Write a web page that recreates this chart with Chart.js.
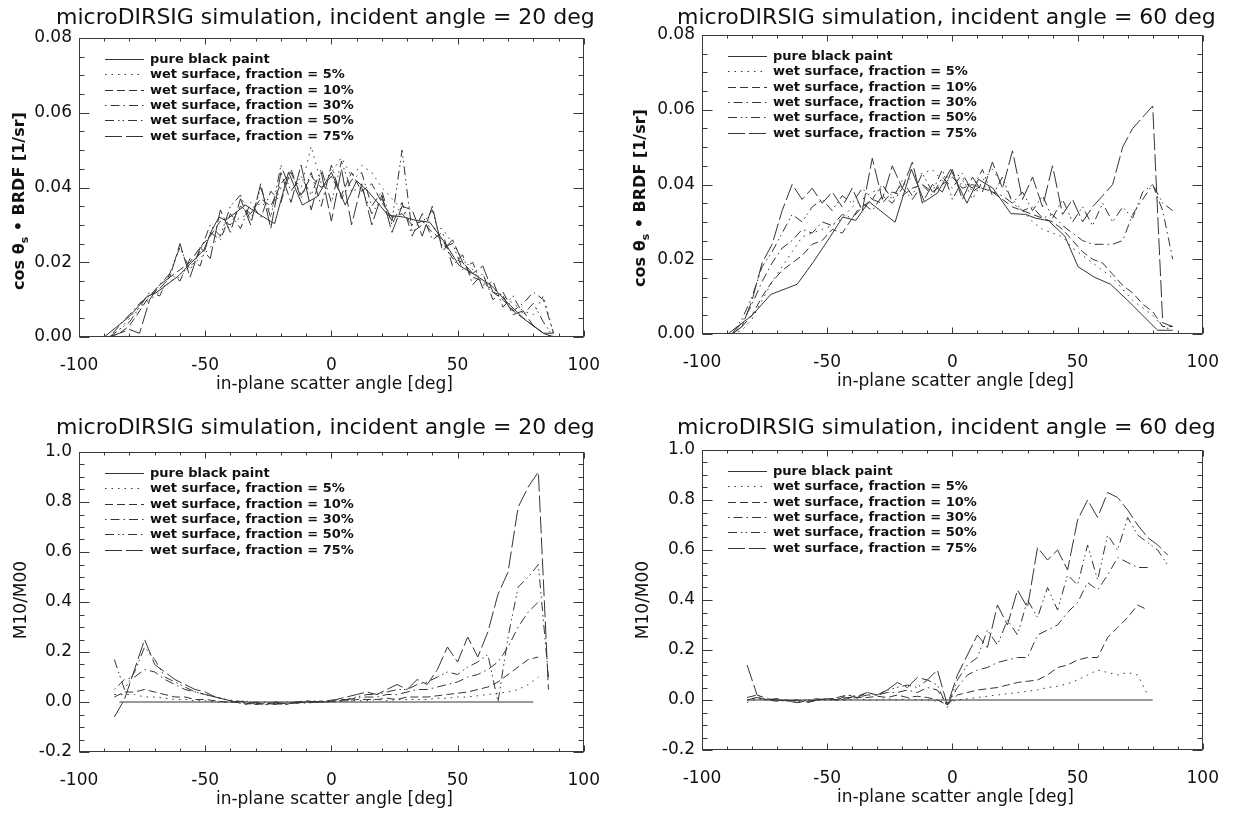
<!DOCTYPE html>
<html>
<head>
<meta charset="utf-8">
<script src="https://cdn.jsdelivr.net/npm/chart.js@4.4.1/dist/chart.umd.min.js"></script>
<style>
  body { margin: 0; background: #fff; }
  #wrap { position: relative; width: 1237px; height: 820px; }
  canvas { position: absolute; }
</style>
</head>
<body>
<div id="wrap">
  <canvas id="c1" width="618" height="410" style="left:0;top:0"></canvas>
  <canvas id="c2" width="619" height="410" style="left:618px;top:0"></canvas>
  <canvas id="c3" width="618" height="410" style="left:0;top:410px"></canvas>
  <canvas id="c4" width="619" height="410" style="left:618px;top:410px"></canvas>
</div>
<script>
const seriesNames = ['pure black paint', 'wet surface, fraction = 5%', 'wet surface, fraction = 10%',
  'wet surface, fraction = 30%', 'wet surface, fraction = 50%', 'wet surface, fraction = 75%'];

const xTicks = [-100, -50, 0, 50, 100];
const yTicksBrdf = [0, 0.02, 0.04, 0.06, 0.08];
const yTicksRatio = [-0.2, 0, 0.2, 0.4, 0.6, 0.8, 1.0];

// scatter angles of the wet surface runs
const angleTop = [-88,-84,-80,-76,-72, -68,-64,-60,-56,-52, -48,-44,-40,-36,-32, -28,-24,-20,-16,-12,
  -8,-4,0,4,8, 12,16,20,24,28, 32,36,40,44,48, 52,56,60,64,68, 72,76,80,84,88];
const angleBL = [-86,-82,-78,-74,-70, -66,-62,-58,-54,-50, -46,-42,-38,-34,-30, -26,-22,-18,-14,-10,
  -6,-2,2,6,10, 14,18,22,26,30, 34,38,42,46,50, 54,58,62,66,70, 74,78,82,86];
const angleBR = [-82,-78,-74,-70,-66, -62,-58,-54,-50,-46, -42,-38,-34,-30,-26, -22,-18,-14,-10,-6,
  -2,2,6,10,14, 18,22,26,30,34, 38,42,46,50,54, 58,62,66,70,74, 78,82,86];

// pure black paint, cos(theta_s) * BRDF
const pureTLx = [-90,-80,-73,-69.5,-60.5, -56.5,-50.5,-47.5,-44.5,-42, -34,-29,-22.5,-17,-11.5,
  -5.5,0,5.5,10,14.5, 22.5,28.5,33.5,39,45, 50.5,56,63.5,70,77, 84,88];
const pureTLy = [0,0.0055,0.0109,0.0118,0.0164, 0.0192,0.0233,0.0284,0.0321,0.0312, 0.0353,0.033,0.0303,0.0441,0.0353,
  0.0376,0.0441,0.0353,0.0418,0.039, 0.0326,0.0321,0.0312,0.0307,0.0252, 0.0192,0.017,0.0137,0.009,0.0045, 0.001,0.001];
const pureTRx = [-89.7,-80,-72.5,-62,-55.5, -49,-43.8,-38.6,-33.3,-22.9, -16.4,-11.2,-6,-0.7,5.8,
  10.4,16.2,23.4,29.3,33.2, 38.4,44.9,50.2,56.7,63.2, 70,76,82,88];
const pureTRy = [0,0.005,0.0106,0.0133,0.0193, 0.0258,0.0313,0.0304,0.0354,0.0299, 0.0441,0.0354,0.0377,0.0441,0.035,
  0.0414,0.039,0.0322,0.032,0.031, 0.0303,0.0262,0.018,0.0152,0.0133, 0.009,0.005,0.001,0.001];
const pureBLx = [-84, 80];
const pureBLy = [0, 0];
const pureBRx = [-82, 80];
const pureBRy = [0, 0];

// incident angle 20 deg, cos * BRDF
const tl5 = [0.000,0.002,0.005,0.008,0.010, 0.012,0.015,0.016,0.019,0.021, 0.024,0.027,0.030,0.032,0.033,
  0.036,0.034,0.040,0.043,0.040, 0.051,0.041,0.044,0.048,0.043, 0.046,0.044,0.040,0.037,0.034,
  0.030,0.031,0.029,0.029,0.025, 0.021,0.018,0.014,0.013,0.011, 0.009,0.007,0.006,0.011,0.001];
const tl10 = [0.000,0.001,0.003,0.007,0.011, 0.013,0.016,0.018,0.020,0.024, 0.027,0.031,0.030,0.035,0.033,
  0.037,0.035,0.041,0.044,0.038, 0.043,0.040,0.043,0.038,0.044, 0.039,0.041,0.036,0.032,0.033,
  0.030,0.031,0.028,0.026,0.021, 0.020,0.016,0.015,0.012,0.010, 0.007,0.005,0.003,0.001,0.000];
const tl30 = [0.000,0.003,0.006,0.009,0.011, 0.014,0.017,0.015,0.021,0.019, 0.028,0.026,0.033,0.029,0.036,
  0.032,0.039,0.036,0.045,0.037, 0.044,0.035,0.046,0.037,0.042, 0.044,0.035,0.039,0.030,0.036,
  0.027,0.033,0.026,0.028,0.019, 0.022,0.014,0.017,0.010,0.012, 0.007,0.009,0.012,0.010,0.001];
const tl50 = [0.000,0.002,0.004,0.008,0.012, 0.011,0.017,0.024,0.018,0.023, 0.030,0.027,0.035,0.038,0.031,
  0.040,0.032,0.046,0.039,0.043, 0.038,0.045,0.036,0.047,0.039, 0.040,0.033,0.037,0.031,0.050,
  0.028,0.030,0.034,0.024,0.025, 0.018,0.020,0.013,0.015,0.008, 0.011,0.006,0.009,0.004,0.000];
const tl75 = [0.000,0.001,0.002,0.001,0.010, 0.014,0.016,0.025,0.016,0.024, 0.021,0.034,0.028,0.037,0.030,
  0.041,0.029,0.044,0.036,0.046, 0.034,0.044,0.031,0.045,0.030, 0.041,0.030,0.038,0.028,0.035,
  0.034,0.027,0.035,0.023,0.026, 0.020,0.017,0.019,0.012,0.011, 0.006,0.007,0.003,0.001,0.000];

// incident angle 60 deg, cos * BRDF
const tr5 = [0.000,0.001,0.004,0.009,0.014, 0.018,0.022,0.026,0.027,0.028, 0.029,0.031,0.034,0.036,0.038,
  0.039,0.037,0.040,0.042,0.043, 0.044,0.041,0.043,0.042,0.036, 0.041,0.044,0.040,0.036,0.033,
  0.030,0.028,0.027,0.026,0.023, 0.021,0.019,0.017,0.015,0.012, 0.009,0.007,0.005,0.002,0.001];
const tr10 = [0.000,0.002,0.005,0.010,0.014, 0.017,0.019,0.021,0.024,0.025, 0.028,0.027,0.031,0.034,0.036,
  0.035,0.038,0.037,0.039,0.040, 0.038,0.040,0.042,0.039,0.040, 0.039,0.038,0.036,0.034,0.033,
  0.032,0.031,0.030,0.028,0.025, 0.022,0.020,0.019,0.016,0.013, 0.011,0.008,0.006,0.002,0.002];
const tr30 = [0.000,0.003,0.008,0.014,0.019, 0.023,0.025,0.028,0.027,0.030, 0.029,0.032,0.031,0.035,0.033,
  0.037,0.035,0.039,0.036,0.040, 0.037,0.042,0.039,0.043,0.038, 0.040,0.038,0.037,0.035,0.033,
  0.034,0.031,0.032,0.029,0.027, 0.025,0.024,0.024,0.024,0.025, 0.032,0.036,0.040,0.033,0.020];
const tr50 = [0.000,0.004,0.010,0.018,0.022, 0.027,0.032,0.030,0.034,0.036, 0.033,0.037,0.035,0.039,0.036,
  0.040,0.036,0.041,0.037,0.043, 0.038,0.044,0.036,0.041,0.039, 0.044,0.037,0.042,0.035,0.038,
  0.033,0.037,0.031,0.036,0.030, 0.034,0.029,0.035,0.030,0.034, 0.031,0.038,0.040,0.035,0.033];
const tr75 = [0.000,0.002,0.009,0.019,0.024, 0.033,0.040,0.036,0.039,0.035, 0.038,0.034,0.039,0.033,0.047,
  0.036,0.045,0.039,0.046,0.035, 0.040,0.038,0.044,0.036,0.042, 0.038,0.046,0.039,0.049,0.036,
  0.042,0.034,0.045,0.032,0.036, 0.030,0.034,0.037,0.040,0.050, 0.055,0.058,0.061,0.003,0.002];

// incident angle 20 deg, M10/M00
const bl5 = [0.03,0.03,0.03,0.02,0.02, 0.015,0.01,0.01,0.005,0.005, 0.0,0.0,0.0,-0.005,0.0,
  -0.005,0.0,-0.005,0.0,0.0, 0.0,0.005,0.0,0.005,0.005, 0.005,0.01,0.005,0.01,0.01,
  0.01,0.01,0.015,0.015,0.02, 0.02,0.025,0.03,0.035,0.04, 0.05,0.07,0.10,null];
const bl10 = [0.02,0.04,0.04,0.05,0.04, 0.03,0.02,0.02,0.01,0.01, 0.005,0.0,0.0,-0.005,-0.01,
  -0.005,-0.01,-0.005,-0.005,0.0, 0.0,0.0,0.005,0.005,0.01, 0.01,0.01,0.015,0.01,0.02,
  0.02,0.02,0.025,0.03,0.035, 0.04,0.05,0.06,0.08,0.11, 0.14,0.17,0.18,null];
const bl30 = [0.05,0.09,0.10,0.13,0.12, 0.09,0.07,0.05,0.04,0.03, 0.02,0.01,0.005,0.0,-0.005,
  -0.01,-0.005,-0.01,0.0,-0.005, 0.0,0.0,0.005,0.01,0.015, 0.02,0.02,0.03,0.03,0.04,
  0.05,0.05,0.06,0.07,0.08, 0.10,0.11,0.13,0.16,0.22, 0.30,0.36,0.40,null];
const bl50 = [0.17,0.05,0.12,0.22,0.17, 0.10,0.08,0.06,0.04,0.03, 0.02,0.01,0.0,0.005,-0.01,
  0.0,-0.01,0.0,-0.005,0.0, 0.005,0.0,0.01,0.01,0.02, 0.03,0.03,0.04,0.05,0.05,
  0.07,0.08,0.10,0.12,0.11, 0.14,0.16,0.19,0.0,0.26, 0.46,0.50,0.55,0.10];
const bl75 = [-0.06,0.01,0.13,0.25,0.15, 0.12,0.09,0.07,0.05,0.04, 0.02,0.01,0.0,-0.01,0.0,
  -0.01,0.0,-0.01,0.0,0.005, 0.0,0.005,0.01,0.02,0.03, 0.04,0.03,0.05,0.07,0.05,
  0.09,0.07,0.13,0.22,0.16, 0.26,0.18,0.28,0.43,0.52, 0.78,0.86,0.92,0.05];

// incident angle 60 deg, M10/M00
const br5 = [-0.01,0.005,0.0,0.0,0.0, -0.005,0.0,0.0,0.0,0.0, 0.0,0.005,0.0,0.0,0.005,
  0.0,0.005,0.0,0.0,-0.005, -0.01,0.0,0.005,0.01,0.015, 0.02,0.025,0.03,0.035,0.04,
  0.05,0.055,0.065,0.08,0.10, 0.12,0.11,0.10,0.11,0.10, 0.02,null,null];
const br10 = [0.0,0.01,0.0,-0.005,0.0, -0.01,-0.005,0.0,0.005,0.0, 0.005,0.01,0.01,0.015,0.01,
  0.02,0.01,0.015,0.01,0.0, -0.02,0.02,0.03,0.04,0.045, 0.05,0.06,0.07,0.075,0.08,
  0.10,0.13,0.14,0.16,0.17, 0.17,0.25,0.29,0.33,0.38, 0.36,null,null];
const br30 = [0.0,0.01,0.0,0.005,-0.005, 0.0,-0.01,0.0,0.005,0.005, 0.01,0.01,0.02,0.02,0.03,
  0.03,0.04,0.03,0.05,0.04, -0.02,0.05,0.10,0.12,0.13, 0.15,0.16,0.17,0.17,0.26,
  0.28,0.30,0.35,0.39,0.47, 0.44,0.50,0.57,0.55,0.53, 0.53,null,null];
const br50 = [0.01,0.02,0.0,0.005,-0.005, -0.01,0.0,0.005,0.0,0.01, 0.02,0.015,0.03,0.02,0.04,
  0.05,0.06,0.05,0.08,0.06, -0.03,0.08,0.14,0.17,0.28, 0.22,0.32,0.26,0.40,0.33,
  0.45,0.36,0.50,0.46,0.62, 0.48,0.66,0.60,0.73,0.66, 0.63,0.60,0.54];
const br75 = [0.14,0.02,0.005,0.0,-0.005, 0.0,-0.01,0.0,0.005,0.0, 0.02,0.01,0.03,0.02,0.04,
  0.07,0.05,0.09,0.08,0.12, -0.02,0.10,0.18,0.26,0.21, 0.38,0.30,0.44,0.37,0.61,
  0.56,0.60,0.52,0.72,0.80, 0.73,0.83,0.81,0.76,0.70, 0.65,0.62,0.58];

// IDL style linestyles: solid, dotted, dashed, dash-dot, dash-dot-dot, long dash
const lineStyles = [[], [1.5, 5], [8, 4], [1.5, 4, 9, 4], [9, 4, 1.5, 3, 1.5, 4], [17, 4]];
const inkColor = '#353535';

Chart.defaults.font.family = '"DejaVu Sans", sans-serif';

function makeDatasets(pureX, pureY, angles, series) {
  const ds = [{ label: seriesNames[0], data: pureX.map((x, i) => ({ x: x, y: pureY[i] })), borderDash: lineStyles[0] }];
  series.forEach((vals, k) => {
    ds.push({ label: seriesNames[k + 1], data: angles.map((x, i) => ({ x: x, y: vals[i] })), borderDash: lineStyles[k + 1] });
  });
  return ds.map(d => Object.assign(d, { borderColor: inkColor, borderWidth: 1, pointRadius: 0, fill: false, tension: 0 }));
}

function deco(p) {
  return {
    id: 'deco',
    afterDatasetsDraw(chart) {
      const ctx = chart.ctx, a = chart.chartArea;
      const sx = chart.scales.x, sy = chart.scales.y;
      const L = Math.round(a.left) + 0.5, R = Math.round(a.right) - 0.5;
      const T = Math.round(a.top) + 0.5, B = Math.round(a.bottom) - 0.5;
      ctx.save();
      ctx.strokeStyle = '#3a3a3a';
      ctx.lineWidth = 1;
      ctx.setLineDash([]);
      ctx.strokeRect(L, T, R - L, B - T);
      // minor + major ticks on all four sides
      ctx.beginPath();
      for (let v = -100; v <= 100; v += 10) {
        const px = Math.round(sx.getPixelForValue(v)) + 0.5;
        const len = v % 50 === 0 ? 6 : 3;
        ctx.moveTo(px, B); ctx.lineTo(px, B - len);
        ctx.moveTo(px, T); ctx.lineTo(px, T + len);
      }
      const n = Math.round((p.yMax - p.yMin) / p.yMinor);
      for (let i = 0; i <= n; i++) {
        const py = Math.round(sy.getPixelForValue(p.yMin + i * p.yMinor)) + 0.5;
        const len = i % p.minorPerMajor === 0 ? 10 : 5;
        ctx.moveTo(L, py); ctx.lineTo(L + len, py);
        ctx.moveTo(R, py); ctx.lineTo(R - len, py);
      }
      ctx.stroke();

      ctx.fillStyle = '#111';
      // panel title
      ctx.font = '22px "DejaVu Sans"';
      ctx.textAlign = 'center';
      ctx.textBaseline = 'alphabetic';
      ctx.fillText(p.title, (a.left + a.right) / 2 - 6, p.titleY);
      // x axis title
      ctx.font = '17px "DejaVu Sans"';
      ctx.textBaseline = 'middle';
      ctx.fillText('in-plane scatter angle [deg]', (a.left + a.right) / 2 + 3, a.bottom + 48);
      // y axis title, rotated, with subscript pieces
      ctx.save();
      ctx.translate(p.yTitleX, p.yTitleY);
      ctx.rotate(-Math.PI / 2);
      ctx.textAlign = 'left';
      let total = 0;
      p.yTitle.forEach(part => { ctx.font = part.font; total += ctx.measureText(part.t).width; });
      let xx = -total / 2;
      p.yTitle.forEach(part => {
        ctx.font = part.font;
        ctx.fillText(part.t, xx, part.dy);
        xx += ctx.measureText(part.t).width;
      });
      ctx.restore();
      // legend inside the plot
      ctx.font = 'bold 13px "DejaVu Sans"';
      ctx.textAlign = 'left';
      ctx.textBaseline = 'middle';
      chart.data.datasets.forEach((d, i) => {
        const y = Math.round(a.top + 21 + i * 15.3) + 0.5;
        ctx.strokeStyle = inkColor;
        ctx.setLineDash(d.borderDash);
        ctx.beginPath();
        ctx.moveTo(a.left + 26, y);
        ctx.lineTo(a.left + 65, y);
        ctx.stroke();
        ctx.fillText(d.label, a.left + 71, y);
      });
      ctx.restore();
    }
  };
}

function makePanel(id, p) {
  const canvas = document.getElementById(id);
  const W = canvas.width, H = canvas.height;
  new Chart(canvas, {
    type: 'line',
    data: { datasets: p.datasets },
    options: {
      responsive: false,
      animation: false,
      devicePixelRatio: 1,
      layout: { padding: { left: 0, right: W - p.area.right, top: p.area.top, bottom: 0 } },
      plugins: { legend: { display: false }, tooltip: { enabled: false }, title: { display: false } },
      scales: {
        x: {
          type: 'linear', min: -100, max: 100,
          grid: { display: false, drawTicks: false }, border: { display: false },
          ticks: { padding: 18, color: '#111', font: { size: 17 }, maxRotation: 0, autoSkip: false,
            callback: v => String(v) },
          afterBuildTicks: s => { s.ticks = xTicks.map(v => ({ value: v })); },
          afterFit: s => { s.height = H - p.area.bottom; }
        },
        y: {
          type: 'linear', min: p.yMin, max: p.yMax,
          grid: { display: false, drawTicks: false }, border: { display: false },
          ticks: { padding: 7, color: '#111', font: { size: 17 }, autoSkip: false,
            callback: v => v.toFixed(p.digits) },
          afterBuildTicks: s => { s.ticks = p.yTicks.map(v => ({ value: v })); },
          afterFit: s => { s.width = p.area.left; }
        }
      }
    },
    plugins: [deco(p)]
  });
}

const brdfTitle = [
  { t: 'cos \u03b8', font: 'bold 16px "DejaVu Sans"', dy: 0 },
  { t: 's', font: 'bold 11px "DejaVu Sans"', dy: 5 },
  { t: ' \u2022 BRDF [1/sr]', font: 'bold 16px "DejaVu Sans"', dy: 0 }
];
const ratioTitle = [{ t: 'M10/M00', font: '17px "DejaVu Sans"', dy: 0 }];

makePanel('c1', {
  title: 'microDIRSIG simulation, incident angle = 20 deg', titleY: 24,
  datasets: makeDatasets(pureTLx, pureTLy, angleTop, [tl5, tl10, tl30, tl50, tl75]),
  area: { left: 79, right: 590, top: 38, bottom: 337 },
  yMin: 0, yMax: 0.08, yTicks: yTicksBrdf, digits: 2, yMinor: 0.005, minorPerMajor: 4,
  yTitle: brdfTitle, yTitleX: 20, yTitleY: 201
});
makePanel('c2', {
  title: 'microDIRSIG simulation, incident angle = 60 deg', titleY: 24,
  datasets: makeDatasets(pureTRx, pureTRy, angleTop, [tr5, tr10, tr30, tr50, tr75]),
  area: { left: 84, right: 598, top: 35, bottom: 334 },
  yMin: 0, yMax: 0.08, yTicks: yTicksBrdf, digits: 2, yMinor: 0.005, minorPerMajor: 4,
  yTitle: brdfTitle, yTitleX: 23, yTitleY: 198
});
makePanel('c3', {
  title: 'microDIRSIG simulation, incident angle = 20 deg', titleY: 24,
  datasets: makeDatasets(pureBLx, pureBLy, angleBL, [bl5, bl10, bl30, bl50, bl75]),
  area: { left: 79, right: 590, top: 42, bottom: 342 },
  yMin: -0.2, yMax: 1.0, yTicks: yTicksRatio, digits: 1, yMinor: 0.05, minorPerMajor: 4,
  yTitle: ratioTitle, yTitleX: 22, yTitleY: 190
});
makePanel('c4', {
  title: 'microDIRSIG simulation, incident angle = 60 deg', titleY: 24,
  datasets: makeDatasets(pureBRx, pureBRy, angleBR, [br5, br10, br30, br50, br75]),
  area: { left: 84, right: 598, top: 40, bottom: 340 },
  yMin: -0.2, yMax: 1.0, yTicks: yTicksRatio, digits: 1, yMinor: 0.05, minorPerMajor: 4,
  yTitle: ratioTitle, yTitleX: 26, yTitleY: 190
});
</script>
</body>
</html>
